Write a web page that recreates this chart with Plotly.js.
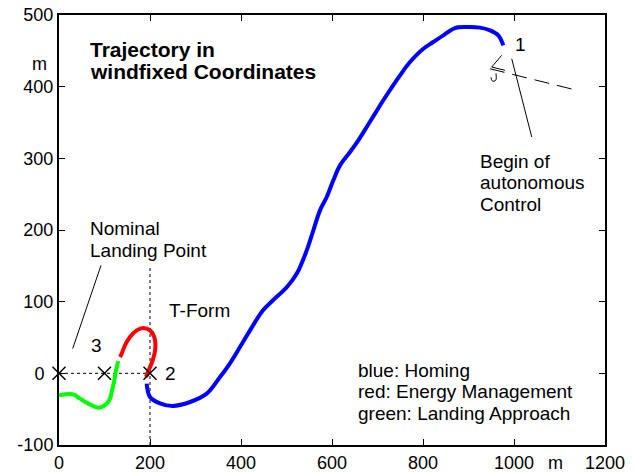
<!DOCTYPE html>
<html>
<head>
<meta charset="utf-8">
<script src="https://cdn.plot.ly/plotly-3.0.1.min.js"></script>
<style>html,body{margin:0;padding:0;background:#fff;}#chart{width:634px;height:472px;}</style>
</head>
<body>
<div id="chart"></div>
<script>
// Homing (blue)
const homingX = [192.7,200,222,250.5,288,324.6,353.8,375.8,397.8,419.8,448.4,470.3,501,523,544.4,559,573.6,588.4,602.9,617.6,639.6,657.8,676.3,694.5,712.7,749.5,771.4,800.7,822.6,844.6,870.3,896,925,947.3,965.5,976.5];
const homingY = [-14.4,-33,-41.9,-45.6,-40,-28.3,-5.2,14,36.7,60,88,101.9,120.4,139.5,171.6,199.5,227.4,246,269.3,290.2,308.8,325.1,343.7,362.4,381,415.8,434.4,453,462.3,471.6,481.8,483.2,482.4,478.6,471.6,457.6];
// Energy management (red)
const energyX = [191.2,198.5,205.9,211.6,209.5,200,185.3,170.8,156,145,137.8,134];
const energyY = [-5.2,6.6,18.1,34.5,50.6,60,63.2,60,50.6,39,27.5,22.7];
// Landing approach (green)
const landingX = [130.3,125.3,120.9,115.8,112.1,104.8,86.4,68.1,46.2,31.4,0];
const landingY = [17.2,4.2,-12.1,-26.1,-35.3,-42.3,-47.9,-43.3,-35.3,-29.3,-30.7];
// Points 3, intermediate, 2
const pointsX = [0,100,200];
const pointsY = [0,0,0];
// T-form guides
const tHorizX = [0,200];
const tHorizY = [0,0];
const tVertX = [200,200];
const tVertY = [-100,147];
// Wind direction dashed line
const windX = [947,1138];
const windY = [425,395];
// Small glyph near point 1
const glyphAX = [972.9,951,980.2];
const glyphAY = [443.7,427.4,422.8];
const glyphBX = [960.4,960.4,956,951.6,949.5];
const glyphBY = [418.6,409.5,407.5,408.5,413];
// Leader lines
const leader1X = [995,1039];
const leader1Y = [439,329.7];
const leader2X = [92.3,30.1];
const leader2Y = [150.7,34.5];
// Axis ticks
const xTicks = [0,200,400,600,800,1000,1200];
const xTickText = ['0','200','400','600','800','1000','1200'];
const yTicks = [-100,0,100,200,300,400,500];
const yTickText = ['-100','0\u2002','100','200','300','400','500'];

const FONT = '"Liberation Sans", Arial, sans-serif';
const line = (x,y,color,width,dash,smooth) => ({x:x,y:y,mode:'lines',type:'scatter',hoverinfo:'skip',showlegend:false,
  line:{color:color,width:width,dash:dash||'solid',shape:smooth?'spline':'linear',smoothing:1}});

const data = [
  line(tHorizX,tHorizY,'#000',1,'dot'),
  line(tVertX,tVertY,'#000',1,'dot'),
  line(windX,windY,'#000',1,'15px,8px'),
  line(glyphAX,glyphAY,'#000',1),
  line(glyphBX,glyphBY,'#000',1,null,true),
  line(leader1X,leader1Y,'#000',1),
  line(leader2X,leader2Y,'#000',1),
  line(homingX,homingY,'#0000ff',4,null,true),
  line(energyX,energyY,'#ff0000',4,null,true),
  line(landingX,landingY,'#00ff00',4,null,true),
  {x:pointsX,y:pointsY,mode:'markers',type:'scatter',hoverinfo:'skip',showlegend:false,cliponaxis:false,
   marker:{symbol:'x-thin-open',size:13,color:'#000',line:{color:'#000',width:1.5}}}
];

const ann = (x,y,text,opts) => Object.assign({x:x,y:y,xref:'x',yref:'y',text:text,showarrow:false,
  xanchor:'left',yanchor:'middle',font:{family:FONT,size:19,color:'#000'}},opts||{});

const annotations = [
  ann(63.7,452,'<b>Trajectory in</b>',{font:{family:FONT,size:21,color:'#000'}}),
  ann(63.7,421.4,'<b>windfixed Coordinates</b>',{font:{family:FONT,size:21,color:'#000'}}),
  ann(1015,459,'1',{xanchor:'center'}),
  ann(921,295.8,'Begin of'),
  ann(921,265.8,'autonomous'),
  ann(921,235.8,'Control'),
  ann(63.7,202.3,'Nominal'),
  ann(63.7,171.6,'Landing Point'),
  ann(237.4,87.9,'T-Form'),
  ann(82.9,39,'3',{xanchor:'center'}),
  ann(244,0,'2',{xanchor:'center'}),
  ann(652.7,4.6,'blue: Homing'),
  ann(652.7,-25.8,'red: Energy Management'),
  ann(652.7,-55.8,'green: Landing Approach'),
  {x:0,y:432,xref:'paper',yref:'y',xanchor:'right',yanchor:'middle',xshift:-10,text:'m',showarrow:false,font:{family:FONT,size:18,color:'#000'}},
  {x:1092,y:0,xref:'x',yref:'paper',xanchor:'center',yanchor:'middle',yshift:-18,text:'m',showarrow:false,font:{family:FONT,size:18,color:'#000'}}
];

const axisCommon = {showgrid:false,zeroline:false,showline:true,linecolor:'#000',linewidth:2,mirror:'ticks',
  ticks:'inside',ticklen:6,tickwidth:1,tickcolor:'#000',tickfont:{family:FONT,size:18,color:'#000'},automargin:false,fixedrange:true};

const layout = {
  width:634,height:472,
  margin:{l:59,r:29,t:15,b:27},
  paper_bgcolor:'#fff',plot_bgcolor:'#fff',
  showlegend:false,
  xaxis:Object.assign({},axisCommon,{range:[0,1200],tickvals:xTicks,ticktext:xTickText}),
  yaxis:Object.assign({},axisCommon,{range:[-100,500],tickvals:yTicks,ticktext:yTickText}),
  annotations:annotations,
  font:{family:FONT,color:'#000'}
};

Plotly.newPlot('chart',data,layout,{displayModeBar:false,staticPlot:true});
</script>
</body>
</html>
